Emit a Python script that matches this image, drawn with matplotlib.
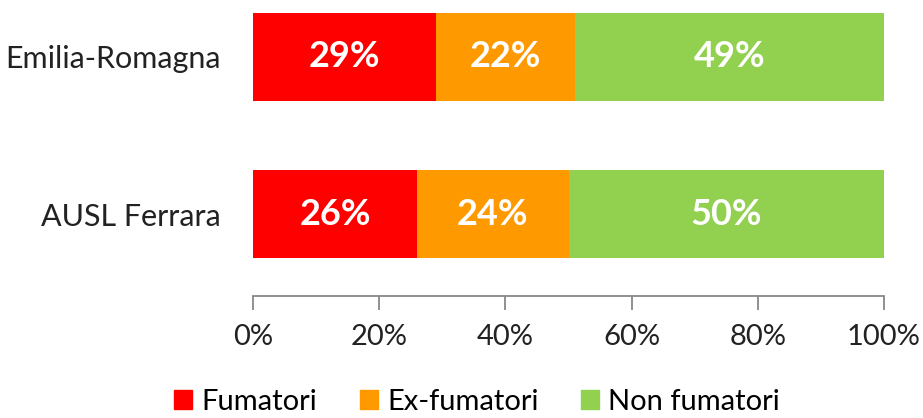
import matplotlib
matplotlib.use('Agg')
import matplotlib.pyplot as plt
import matplotlib.patches as mpatches

plt.rcParams['font.family'] = ['Lato', 'DejaVu Sans']

# data
regions = ['AUSL Ferrara', 'Emilia-Romagna']
series = ['Fumatori', 'Ex-fumatori', 'Non fumatori']
fumatori = [26, 29]
ex_fumatori = [24, 22]
non_fumatori = [50, 49]
colors = ['#FF0000', '#FF9900', '#92D050']
xticks = [0, 20, 40, 60, 80, 100]

fig = plt.figure(figsize=(9.23, 4.18), dpi=100)
ax = fig.add_axes([253/923, 1 - 296/418, (884-253)/923, 296/418])

values = [fumatori, ex_fumatori, non_fumatori]
left = [0, 0]
for name, vals, col in zip(series, values, colors):
    bars = ax.barh(range(len(regions)), vals, left=left, height=0.56,
                   color=col, label=name)
    for b, v in zip(bars, vals):
        ax.text(b.get_x() + b.get_width()/2, b.get_y() + b.get_height()/2,
                f'{v}%', ha='center', va='center', color='white',
                fontsize=26, fontweight='bold')
    left = [l + v for l, v in zip(left, vals)]

ax.set_xlim(0, 100)
ax.set_ylim(-0.52, 1.36)
ax.set_yticks(range(len(regions)))
ax.set_yticklabels(regions, fontsize=22, color='#222222')
ax.tick_params(axis='y', length=0, pad=23)
ax.set_xticks(xticks)
ax.set_xticklabels([f'{t}%' for t in xticks], fontsize=21, color='#222222')
ax.tick_params(axis='x', direction='out', length=10, width=1.3, color='#888888', pad=10)

for s in ['top', 'right', 'left']:
    ax.spines[s].set_visible(False)
ax.spines['bottom'].set_color('#888888')
ax.spines['bottom'].set_linewidth(1.3)

handles = [mpatches.Patch(color=c, label=n) for n, c in zip(series, colors)]
fig.legend(handles=handles, loc='center', bbox_to_anchor=(477/923, 1 - 402/418),
           ncol=3, frameon=False, fontsize=21, handlelength=0.62, handleheight=0.62,
           handletextpad=0.32, columnspacing=1.45, borderpad=0, borderaxespad=0)

fig.savefig('out.png', dpi=100)
